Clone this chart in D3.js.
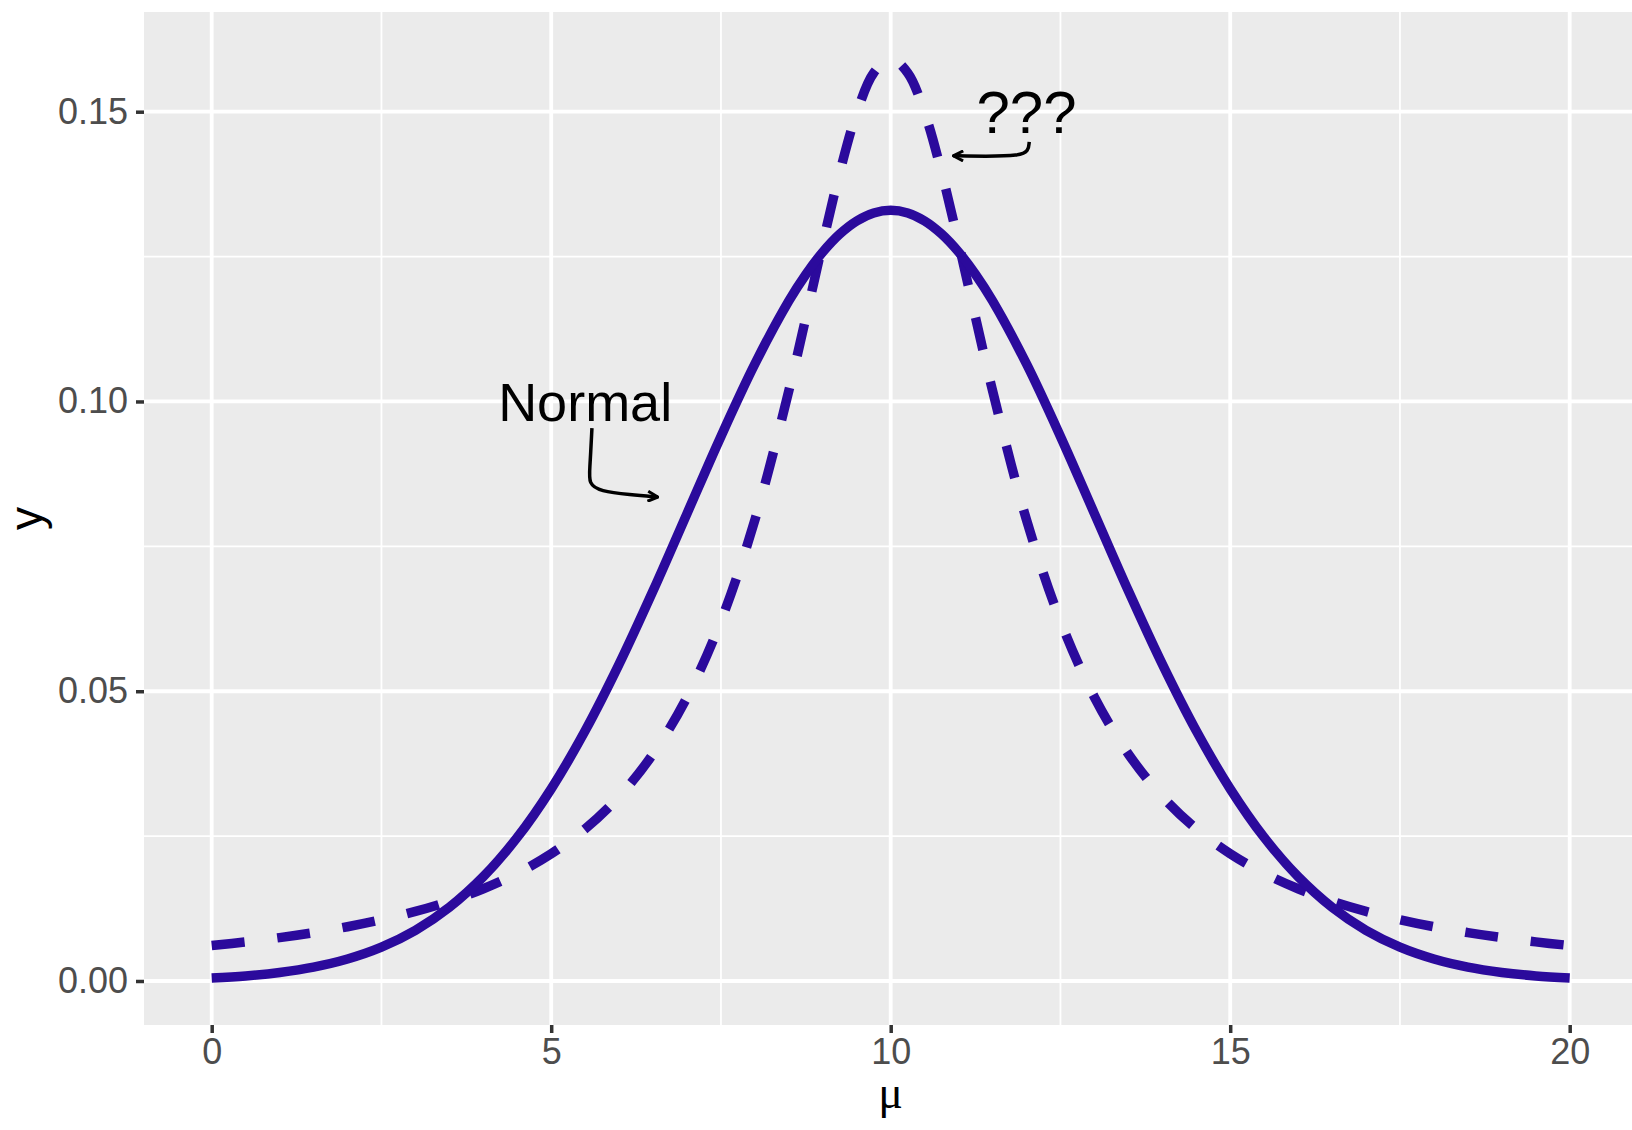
<!DOCTYPE html>
<html>
<head>
<meta charset="utf-8">
<script src="https://cdn.jsdelivr.net/npm/d3@7"></script>
<style>
  body { margin: 0; background: #fff; }
  svg text { font-family: "Liberation Sans", Arial, sans-serif; }
</style>
</head>
<body>
<div id="chart"></div>
<script>
// chart size
const width = 1632, height = 1130;

// values
const muValues = [0, 0.5, 1, 1.5, 2, 2.5, 3, 3.5, 4, 4.5, 5, 5.5, 6, 6.5, 7, 7.5, 8, 8.5, 8.75,
  9, 9.25, 9.5, 9.75, 10, 10.25, 10.5, 10.75, 11, 11.25, 11.5, 12, 12.5, 13, 13.5, 14, 14.5,
  15, 15.5, 16, 16.5, 17, 17.5, 18, 18.5, 19, 19.5, 20];

const normalY = [0.00051, 0.00088, 0.00148, 0.00240, 0.00380, 0.00584, 0.00874, 0.01272, 0.01800,
  0.02477, 0.03316, 0.04317, 0.05467, 0.06733, 0.08066, 0.09397, 0.10648, 0.11736, 0.12192,
  0.12579, 0.12889, 0.13115, 0.13252, 0.13298, 0.13252, 0.13115, 0.12889, 0.12579, 0.12192,
  0.11736, 0.10648, 0.09397, 0.08066, 0.06733, 0.05467, 0.04317, 0.03316, 0.02477, 0.01800,
  0.01272, 0.00874, 0.00584, 0.00380, 0.00240, 0.00148, 0.00088, 0.00051];

const mysteryY = [0.00612, 0.00675, 0.00749, 0.00835, 0.00936, 0.01057, 0.01201, 0.01376, 0.01592,
  0.01859, 0.02195, 0.02625, 0.03183, 0.03918, 0.04897, 0.06211, 0.07958, 0.10186, 0.11445,
  0.12732, 0.13953, 0.14980, 0.15671, 0.15915, 0.15671, 0.14980, 0.13953, 0.12732, 0.11445,
  0.10186, 0.07958, 0.06211, 0.04897, 0.03918, 0.03183, 0.02625, 0.02195, 0.01859, 0.01592,
  0.01376, 0.01201, 0.01057, 0.00936, 0.00835, 0.00749, 0.00675, 0.00612];

const xTicks = [0, 5, 10, 15, 20];
const xMinor = [2.5, 7.5, 12.5, 17.5];
const yTicks = [0, 0.05, 0.10, 0.15];
const yMinor = [0.025, 0.075, 0.125];

// annotations (data coords)
const normalLabel = { x: 5.5, y: 0.1, text: "Normal", size: 54 };
const mysteryLabel = { x: 12, y: 0.15, text: "???", size: 60 };
const normalArrow = [[5.60, 0.0954], [5.57, 0.0885], [5.55, 0.0858], [5.72, 0.0845], [6.16, 0.0839], [6.57, 0.0835]];
const mysteryArrow = [[12.04, 0.1448], [12.03, 0.1432], [11.90, 0.1424], [11.40, 0.1423], [10.92, 0.1424]];

const lineColor = "#2B0A9C";

const panel = { left: 144, right: width, top: 12, bottom: 1025 };

const svg = d3.select("#chart")
  .append("svg")
  .attr("width", width)
  .attr("height", height)
  .attr("viewBox", [0, 0, width, height]);

svg.append("rect").attr("width", width).attr("height", height).attr("fill", "#fff");

// scales
const xScale = d3.scaleLinear().domain([0, 20]).range([211.7, 1569.7]);
const yScale = d3.scaleLinear().domain([0, 0.15]).range([981, 111.7]);

// panel background
svg.append("rect")
  .attr("x", panel.left).attr("y", panel.top)
  .attr("width", panel.right - panel.left).attr("height", panel.bottom - panel.top)
  .attr("fill", "#EBEBEB");

// grid
const grid = svg.append("g");
grid.selectAll(".xminor").data(xMinor).enter().append("line")
  .attr("x1", d => xScale(d)).attr("x2", d => xScale(d))
  .attr("y1", panel.top).attr("y2", panel.bottom)
  .attr("stroke", "#fff").attr("stroke-width", 1.8);
grid.selectAll(".yminor").data(yMinor).enter().append("line")
  .attr("y1", d => yScale(d)).attr("y2", d => yScale(d))
  .attr("x1", panel.left).attr("x2", panel.right)
  .attr("stroke", "#fff").attr("stroke-width", 1.8);
grid.selectAll(".xmajor").data(xTicks).enter().append("line")
  .attr("x1", d => xScale(d)).attr("x2", d => xScale(d))
  .attr("y1", panel.top).attr("y2", panel.bottom)
  .attr("stroke", "#fff").attr("stroke-width", 3.8);
grid.selectAll(".ymajor").data(yTicks).enter().append("line")
  .attr("y1", d => yScale(d)).attr("y2", d => yScale(d))
  .attr("x1", panel.left).attr("x2", panel.right)
  .attr("stroke", "#fff").attr("stroke-width", 3.8);

// axes
const yAxis = svg.append("g")
  .attr("transform", `translate(${panel.left},0)`)
  .call(d3.axisLeft(yScale).tickValues(yTicks).tickFormat(d3.format(".2f")).tickSize(8).tickPadding(8));
const xAxis = svg.append("g")
  .attr("transform", `translate(0,${panel.bottom})`)
  .call(d3.axisBottom(xScale).tickValues(xTicks).tickFormat(d3.format("d")).tickSize(8).tickPadding(5));

[xAxis, yAxis].forEach(a => {
  a.select(".domain").remove();
  a.selectAll(".tick line").attr("stroke", "#333333").attr("stroke-width", 3.5);
  a.selectAll(".tick text")
    .attr("fill", "#4D4D4D")
    .style("font-family", "'Liberation Sans', Arial, sans-serif")
    .style("font-size", "36px");
});

// curves
const line = d3.line()
  .x((d, i) => xScale(muValues[i]))
  .y(d => yScale(d))
  .curve(d3.curveCatmullRom);

svg.append("clipPath").attr("id", "panel-clip")
  .append("rect")
  .attr("x", panel.left).attr("y", panel.top)
  .attr("width", panel.right - panel.left).attr("height", panel.bottom - panel.top);

const plot = svg.append("g").attr("clip-path", "url(#panel-clip)");

plot.append("path")
  .datum(mysteryY)
  .attr("d", line)
  .attr("fill", "none")
  .attr("stroke", lineColor)
  .attr("stroke-width", 9.5)
  .attr("stroke-dasharray", "33 33")
  .attr("stroke-linecap", "butt");

plot.append("path")
  .datum(normalY)
  .attr("d", line)
  .attr("fill", "none")
  .attr("stroke", lineColor)
  .attr("stroke-width", 9.5)
  .attr("stroke-linecap", "butt");

// arrow heads
svg.append("defs").append("marker")
  .attr("id", "arrowhead")
  .attr("viewBox", "0 0 12 12")
  .attr("refX", 11).attr("refY", 6)
  .attr("markerWidth", 12).attr("markerHeight", 12)
  .attr("markerUnits", "userSpaceOnUse")
  .attr("orient", "auto")
  .append("path")
  .attr("d", "M1,1 L11,6 L1,11")
  .attr("fill", "none")
  .attr("stroke", "#000")
  .attr("stroke-width", 3);

const arrowLine = d3.line()
  .x(d => xScale(d[0]))
  .y(d => yScale(d[1]))
  .curve(d3.curveBasis);

[normalArrow, mysteryArrow].forEach(pts => {
  plot.append("path")
    .attr("d", arrowLine(pts))
    .attr("fill", "none")
    .attr("stroke", "#000")
    .attr("stroke-width", 3.5)
    .attr("marker-end", "url(#arrowhead)");
});

// labels
[normalLabel, mysteryLabel].forEach(l => {
  plot.append("text")
    .attr("x", xScale(l.x))
    .attr("y", yScale(l.y))
    .attr("dy", "0.36em")
    .attr("text-anchor", "middle")
    .attr("fill", "#000")
    .style("font-size", l.size + "px")
    .text(l.text);
});

// axis titles
svg.append("text")
  .attr("x", xScale(10))
  .attr("y", 1108)
  .attr("text-anchor", "middle")
  .style("font-family", "'Liberation Serif', serif")
  .style("font-size", "46px")
  .text("μ");

svg.append("text")
  .attr("transform", `translate(42,${(panel.top + panel.bottom) / 2}) rotate(-90)`)
  .attr("text-anchor", "middle")
  .style("font-size", "46px")
  .text("y");
</script>
</body>
</html>
